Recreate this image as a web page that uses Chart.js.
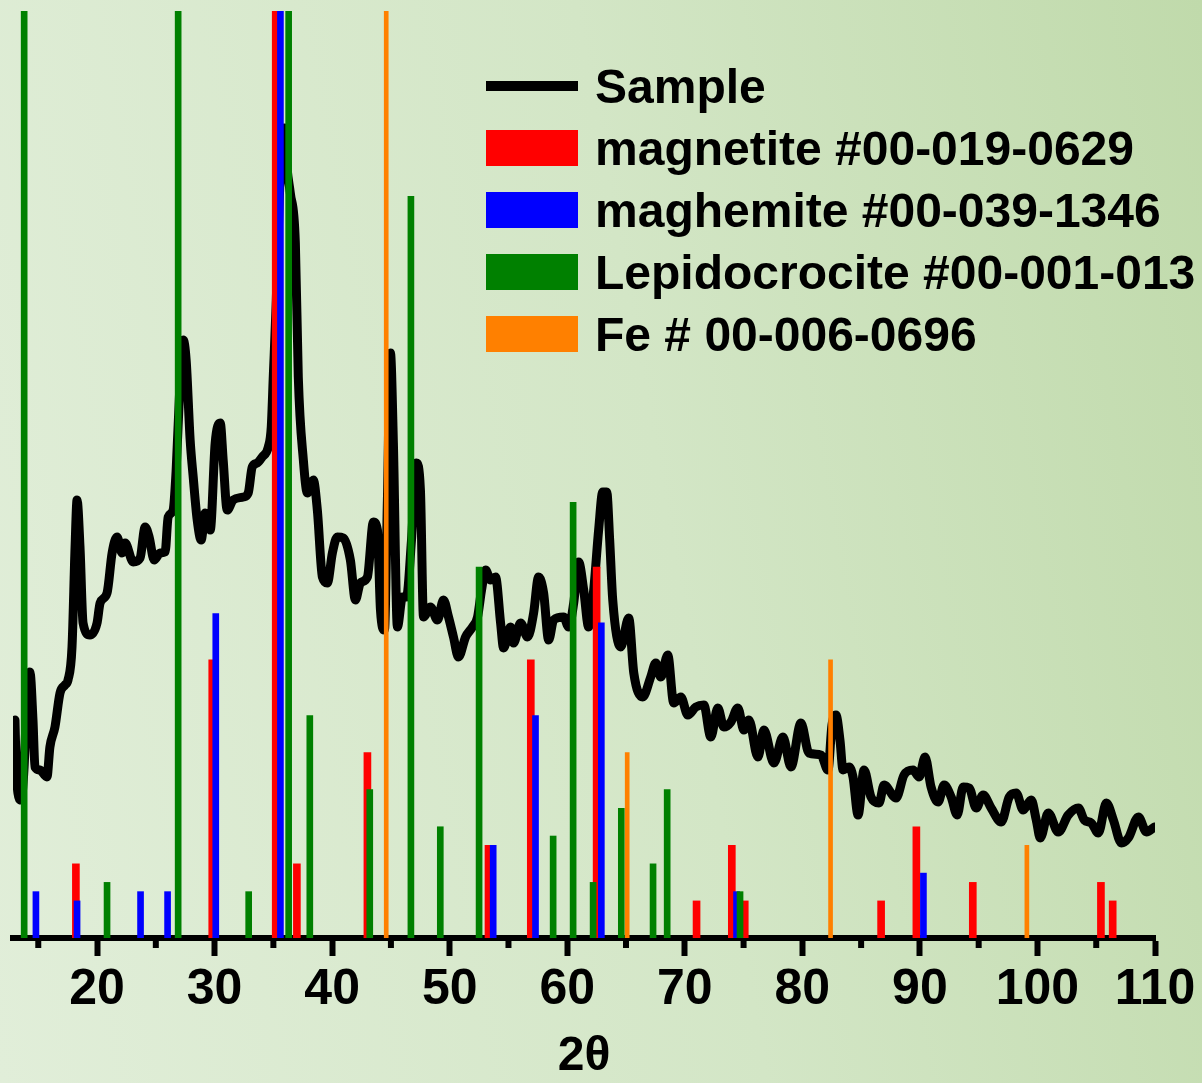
<!DOCTYPE html>
<html>
<head>
<meta charset="utf-8">
<script src="https://cdn.jsdelivr.net/npm/chart.js@4.4.1/dist/chart.umd.min.js"></script>
<style>
  html, body { margin: 0; padding: 0; }
  body {
    width: 1202px; height: 1083px; overflow: hidden;
    background: linear-gradient(80deg, #e1eed9 0%, #d3e6c6 55%, #c0daab 100%);
  }
</style>
</head>
<body>
<canvas id="grafico" width="1202" height="1083"></canvas>
<script>
  // sample pattern, 2theta and intensity (a.u.)
  const sampleX = [13.02, 13.10, 13.27, 13.53, 13.78, 14.04, 14.29, 14.55, 14.72, 15.14,
    15.74, 15.99, 16.42, 16.85, 17.27, 17.53, 17.87, 18.13, 18.30, 18.55,
    18.81, 19.40, 20.00, 20.26, 20.85, 21.28, 21.70, 22.13, 22.39, 23.07,
    23.66, 24.09, 24.43, 24.86, 25.37, 25.79, 26.05, 26.47, 26.73, 27.07,
    27.33, 27.58, 27.92, 28.18, 28.52, 28.86, 29.20, 29.63, 30.05, 30.48,
    30.73, 31.07, 31.58, 32.44, 32.86, 33.20, 33.63, 34.05, 34.57, 34.82,
    34.99, 35.25, 35.50, 35.76, 35.93, 36.18, 36.44, 36.87, 37.12, 37.55,
    37.89, 38.14, 38.40, 38.74, 39.17, 39.59, 40.02, 40.44, 40.95, 41.55,
    41.98, 42.40, 43.00, 43.51, 43.85, 44.11, 44.45, 44.70, 44.96, 45.21,
    45.55, 45.98, 46.32, 46.75, 47.17, 47.51, 47.77, 48.36, 48.96, 49.47,
    49.90, 50.32, 50.75, 51.35, 51.94, 52.37, 52.71, 53.05, 53.48, 53.90,
    54.33, 54.58, 55.18, 55.43, 56.03, 56.63, 57.14, 57.56, 57.99, 58.42,
    58.84, 59.69, 60.12, 60.55, 60.97, 61.40, 61.82, 62.25, 62.67, 63.02,
    63.36, 63.61, 63.87, 64.55, 65.23, 65.66, 66.42, 67.10, 67.53, 67.96,
    68.55, 69.06, 69.66, 70.26, 70.94, 71.62, 72.21, 72.81, 73.32, 73.92,
    74.51, 75.03, 75.45, 76.22, 76.73, 77.58, 78.35, 79.03, 79.88, 80.56,
    81.58, 82.18, 82.52, 82.86, 83.20, 83.46, 83.97, 84.31, 84.74, 85.25,
    85.84, 86.52, 86.95, 87.97, 88.65, 89.42, 89.93, 90.44, 90.95, 91.55,
    92.06, 92.66, 93.17, 93.68, 94.19, 94.79, 95.38, 96.06, 96.92, 97.60,
    98.19, 98.79, 99.47, 99.90, 100.24, 100.92, 101.77, 102.62, 103.48, 103.99,
    104.58, 105.18, 105.86, 106.46, 107.14, 107.73, 108.59, 109.27, 109.95];
  const sampleY = [218, 178, 145, 138, 168, 238, 266, 218, 171, 168,
    161, 191, 211, 245, 253, 258, 291, 391, 438, 391,
    315, 303, 315, 335, 345, 385, 401, 385, 395, 376,
    380, 411, 401, 378, 385, 386, 421, 428, 468, 558,
    598, 578, 498, 461, 418, 398, 425, 408, 495, 515,
    478, 428, 438, 441, 445, 471, 475, 481, 491, 511,
    561, 638, 738, 803, 810, 768, 745, 695, 561, 478,
    445, 453, 458, 428, 361, 355, 385, 401, 400, 378,
    338, 355, 361, 416, 408, 328, 308, 438, 585, 495,
    311, 341, 341, 398, 475, 448, 321, 331, 318, 338,
    321, 301, 281, 301, 311, 321, 348, 368, 358, 361,
    315, 290, 311, 295, 315, 301, 325, 361, 345, 298,
    318, 321, 311, 335, 376, 348, 311, 348, 408, 446,
    446, 398, 338, 291, 320, 265, 241, 261, 275, 261,
    283, 235, 241, 223, 231, 233, 201, 230, 211, 216,
    230, 208, 218, 181, 208, 175, 201, 171, 215, 185,
    183, 168, 213, 223, 198, 168, 171, 161, 123, 168,
    141, 135, 153, 140, 163, 168, 161, 181, 151, 136,
    153, 141, 123, 151, 150, 130, 143, 130, 116, 141,
    145, 128, 138, 118, 100, 125, 106, 123, 130, 118,
    115, 105, 135, 118, 95, 100, 121, 106, 111];

  // reference patterns, 2theta and relative intensity (%)
  const magnetiteX = [18.2, 29.8, 35.2, 37.0, 43.0, 53.3, 56.9, 62.5, 71.0, 74.0, 75.1, 86.7, 89.7, 94.5, 105.4, 106.4];
  const magnetiteY = [8, 30, 100, 8, 20, 10, 30, 40, 4, 10, 4, 4, 12, 6, 6, 4];

  const maghemiteX = [14.8, 18.3, 23.7, 26.0, 30.1, 35.6, 53.7, 57.3, 62.9, 74.4, 90.3];
  const maghemiteY = [5, 4, 5, 5, 35, 100, 10, 24, 34, 5, 7];

  const lepidoX = [13.8, 20.85, 26.9, 32.9, 36.3, 38.1, 43.2, 46.7, 49.2, 52.5, 58.8, 60.5, 62.2, 64.6, 67.3, 68.5, 74.7];
  const lepidoY = [100, 6, 100, 5, 100, 24, 16, 80, 12, 40, 11, 47, 6, 14, 8, 16, 5];

  const feX = [44.6, 65.1, 82.4, 99.1];
  const feY = [100, 20, 30, 10];

  const xTicks = [20, 30, 40, 50, 60, 70, 80, 90, 100, 110];
  const xMinorTicks = [15, 25, 35, 45, 55, 65, 75, 85, 95, 105];

  function pontos(xs, ys) {
    return xs.map((x, i) => ({ x: x, y: ys[i] }));
  }

  const fonte = '"Liberation Sans", Arial, sans-serif';

  // minor ticks at the 5s, shorter than the labelled ones
  const minorTicksPlugin = {
    id: 'minorTicks',
    afterDraw(chart) {
      const escala = chart.scales.x;
      const ctx = chart.ctx;
      const base = chart.chartArea.bottom;
      ctx.save();
      ctx.strokeStyle = '#000';
      ctx.lineWidth = 6;
      xMinorTicks.forEach(v => {
        const px = escala.getPixelForValue(v);
        ctx.beginPath();
        ctx.moveTo(px, base);
        ctx.lineTo(px, base + 10);
        ctx.stroke();
      });
      ctx.restore();
    }
  };

  // legend drawn inside the plot, top right
  const legendaPlugin = {
    id: 'legenda',
    afterDraw(chart) {
      const ctx = chart.ctx;
      const ordem = ['Sample', 'magnetite #00-019-0629', 'maghemite #00-039-1346',
        'Lepidocrocite #00-001-013', 'Fe # 00-006-0696'];
      ctx.save();
      ctx.font = 'bold 48px ' + fonte;
      ctx.textBaseline = 'alphabetic';
      ordem.forEach((nome, i) => {
        const ds = chart.data.datasets.find(d => d.label === nome);
        const y = 86 + i * 62;
        if (ds.type === 'line') {
          ctx.fillStyle = ds.borderColor;
          ctx.fillRect(486, y - 5, 92, 10);
        } else {
          ctx.fillStyle = ds.backgroundColor;
          ctx.fillRect(486, y - 18, 92, 36);
        }
        ctx.fillStyle = '#000';
        ctx.fillText(nome, 595, y + 17);
      });
      ctx.restore();
    }
  };

  const ctx = document.getElementById('grafico').getContext('2d');

  new Chart(ctx, {
    type: 'bar',
    data: {
      datasets: [
        {
          type: 'line',
          label: 'Sample',
          data: pontos(sampleX, sampleY),
          yAxisID: 'y',
          borderColor: '#000000',
          borderWidth: 9,
          pointRadius: 0,
          cubicInterpolationMode: 'monotone',
          borderJoinStyle: 'round',
          borderCapStyle: 'round',
          order: 5
        },
        {
          label: 'magnetite #00-019-0629',
          data: pontos(magnetiteX, magnetiteY),
          yAxisID: 'y2',
          backgroundColor: '#ff0000',
          barThickness: 7,
          grouped: false,
          order: 4
        },
        {
          label: 'maghemite #00-039-1346',
          data: pontos(maghemiteX, maghemiteY),
          yAxisID: 'y2',
          backgroundColor: '#0000ff',
          barThickness: 6,
          grouped: false,
          order: 3
        },
        {
          label: 'Lepidocrocite #00-001-013',
          data: pontos(lepidoX, lepidoY),
          yAxisID: 'y2',
          backgroundColor: '#008000',
          barThickness: 6,
          grouped: false,
          order: 2
        },
        {
          label: 'Fe # 00-006-0696',
          data: pontos(feX, feY),
          yAxisID: 'y2',
          backgroundColor: '#ff8000',
          barThickness: 4,
          grouped: false,
          order: 1
        }
      ]
    },
    options: {
      responsive: false,
      animation: false,
      layout: { padding: { left: 13, right: 47, top: 11, bottom: 0 } },
      plugins: {
        legend: { display: false },
        tooltip: { enabled: false }
      },
      scales: {
        x: {
          type: 'linear',
          position: 'bottom',
          min: 12.85,
          max: 110,
          offset: false,
          z: 1,
          afterBuildTicks: escala => {
            escala.ticks = xTicks.map(v => ({ value: v }));
          },
          afterFit: escala => {
            escala.height = 145;
          },
          ticks: {
            color: '#000',
            font: { family: fonte, size: 50, weight: 'bold' },
            padding: 4,
            maxRotation: 0,
            autoSkip: false
          },
          grid: {
            offset: false,
            drawOnChartArea: false,
            drawTicks: true,
            tickLength: 18,
            tickWidth: 6,
            tickColor: '#000'
          },
          border: { display: true, color: '#000', width: 6 },
          title: {
            display: true,
            text: '2θ',
            color: '#000',
            font: { family: fonte, size: 48, weight: 'bold', lineHeight: 1.1 },
            padding: 0
          }
        },
        y: { display: false, min: 0, max: 927 },
        y2: { display: false, min: 0, max: 100 }
      }
    },
    plugins: [minorTicksPlugin, legendaPlugin]
  });
</script>
</body>
</html>
